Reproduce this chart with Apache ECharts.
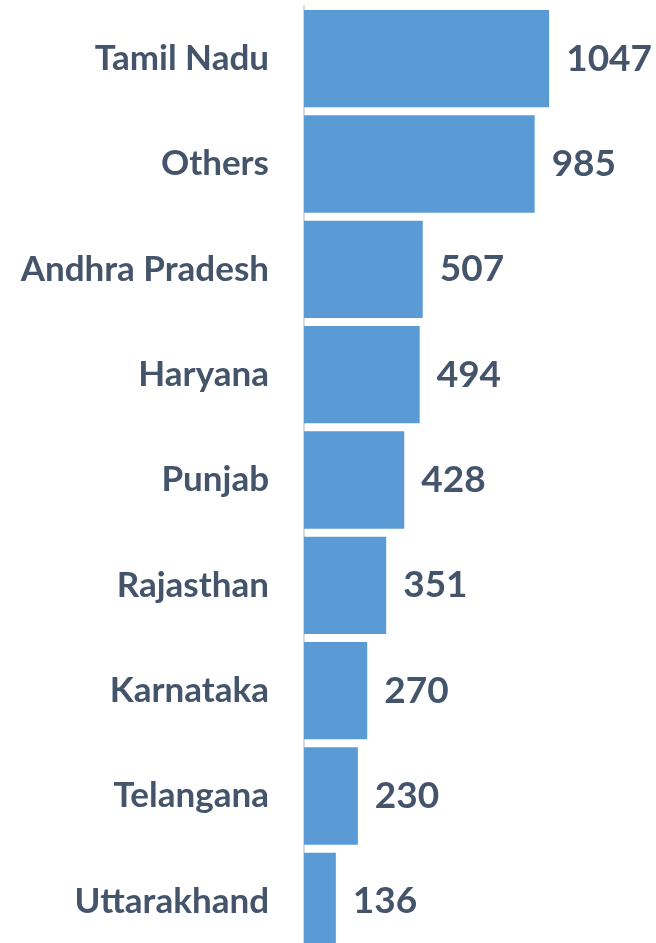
<!DOCTYPE html>
<html>
<head>
<meta charset="utf-8">
<script src="https://cdn.jsdelivr.net/npm/echarts@6/dist/echarts.min.js"></script>
<style>
  html, body { margin: 0; padding: 0; background: #fff; overflow: hidden; }
  #chart { width: 656px; height: 960px; }
</style>
</head>
<body>
<div id="chart"></div>
<script>
const states = ["Tamil Nadu", "Others", "Andhra Pradesh", "Haryana", "Punjab", "Rajasthan", "Karnataka", "Telangana", "Uttarakhand"];
const counts = [1047, 985, 507, 494, 428, 351, 270, 230, 136];

const chart = echarts.init(document.getElementById("chart"));

const option = {
  animation: false,
  grid: {
    left: 304,
    top: 6,
    width: 281,
    height: 948,
    containLabel: false,
  },
  xAxis: {
    type: "value",
    min: 0,
    max: 1200,
    show: false,
  },
  yAxis: {
    type: "category",
    inverse: true,
    data: states,
    axisLine: { show: true, lineStyle: { color: "#d9d9d9", width: 2 } },
    axisTick: { show: false },
    axisLabel: {
      margin: 35,
      color: "#44546a",
      fontFamily: "Lato",
      fontWeight: "bold",
      fontSize: 35,
    },
  },
  series: [
    {
      type: "bar",
      data: counts,
      barCategoryGap: "7.6%",
      itemStyle: { color: "#5b9bd5" },
      label: {
        show: true,
        position: "right",
        distance: 17,
        color: "#44546a",
        fontFamily: "Lato",
        fontWeight: "bold",
        fontSize: 37,
      },
    },
  ],
};

chart.setOption(option);
</script>
</body>
</html>
